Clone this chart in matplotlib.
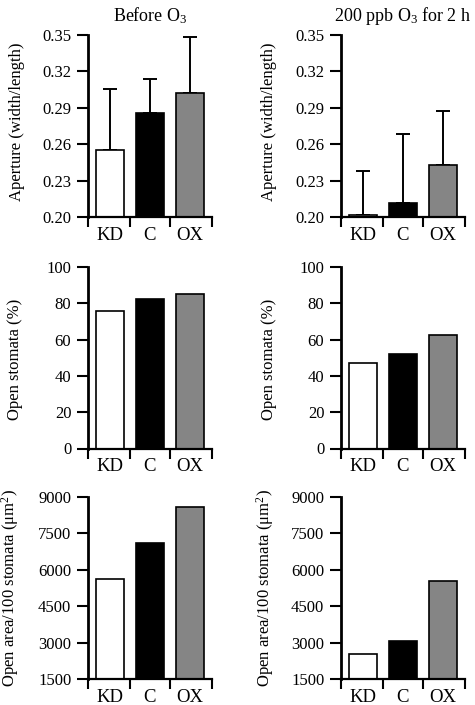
import matplotlib
matplotlib.use("Agg")
import matplotlib.pyplot as plt
import numpy as np

plt.rcParams['font.family'] = ['Liberation Serif', 'DejaVu Serif']
plt.rcParams['mathtext.fontset'] = 'custom'
plt.rcParams['mathtext.rm'] = 'Liberation Serif'
plt.rcParams['mathtext.it'] = 'Liberation Serif:italic'

categories = ['KD', 'C', 'OX']
bar_colors = ['white', 'black', '#858585']

titles = [r'Before O$_\mathregular{3}$', r'200 ppb O$_\mathregular{3}$ for 2 h']

aperture_before = [0.2552, 0.2855, 0.3025]
aperture_before_err = [0.0505, 0.0280, 0.0455]
aperture_after = [0.2015, 0.2113, 0.2426]
aperture_after_err = [0.0362, 0.0571, 0.0444]

open_before = [75.6, 82.2, 85.1]
open_after = [47.3, 52.3, 62.7]

area_before = [5640, 7120, 8600]
area_after = [2510, 3085, 5525]

ylabels = ['Aperture (width/length)', 'Open stomata (%)',
           r'Open area/100 stomata ($\mathregular{\mu m^2}$)']
yticks = [np.arange(0.20, 0.351, 0.03), np.arange(0, 101, 20), np.arange(1500, 9001, 1500)]
ylims = [(0.20, 0.35), (0, 100), (1500, 9000)]
yfmt = ['{:.2f}', '{:.0f}', '{:.0f}']

data = [
    [(aperture_before, aperture_before_err), (aperture_after, aperture_after_err)],
    [(open_before, None), (open_after, None)],
    [(area_before, None), (area_after, None)],
]

W, H = 475, 705
fig = plt.figure(figsize=(W / 100, H / 100), dpi=100)

col_x = [88, 341]
ax_w = 124
row_y = [(35, 217), (267, 448.5), (497, 679)]
label_x = [[-0.51, -0.52], [-0.525, -0.515], [-0.54, -0.525]]
label_y = [0.525, 0.49, 0.5]

for r in range(3):
    for c in range(2):
        top, bot = row_y[r]
        ax = fig.add_axes([col_x[c] / W, (H - bot) / H, ax_w / W, (bot - top) / H])
        vals, err = data[r][c]
        x = np.arange(len(categories))
        ax.bar(x, vals, width=0.70, color=bar_colors, edgecolor='black', linewidth=1.2, zorder=2)
        if err is not None:
            ax.errorbar(x, vals, yerr=[np.zeros(len(err)), err], fmt='none',
                        ecolor='black', elinewidth=1.4, capsize=5, capthick=1.4, zorder=1)
        ax.set_xlim(-0.54, 2.56)
        ax.set_ylim(*ylims[r])
        ax.set_yticks(yticks[r])
        ax.set_yticklabels([yfmt[r].format(v) for v in yticks[r]])
        ax.set_xticks([-0.54, 0.5, 1.5, 2.56])
        ax.set_xticklabels([])
        ax.set_xticks(x, minor=True)
        ax.set_xticklabels(categories, minor=True, fontsize=13.5)
        ax.tick_params(axis='x', which='major', direction='out', length=7, width=1.5)
        ax.tick_params(axis='x', which='minor', length=0, pad=7)
        ax.tick_params(axis='y', direction='out', length=8, width=1.5, labelsize=12, pad=4)
        for s in ['top', 'right']:
            ax.spines[s].set_visible(False)
        ax.spines['left'].set_linewidth(2.0)
        ax.spines['bottom'].set_linewidth(1.6)
        ax.set_ylabel(ylabels[r], fontsize=12)
        ax.yaxis.set_label_coords(label_x[r][c], label_y[r])
        if r == 0:
            ax.set_title(titles[c], fontsize=13, pad=10)

fig.savefig('out.png', dpi=100)
